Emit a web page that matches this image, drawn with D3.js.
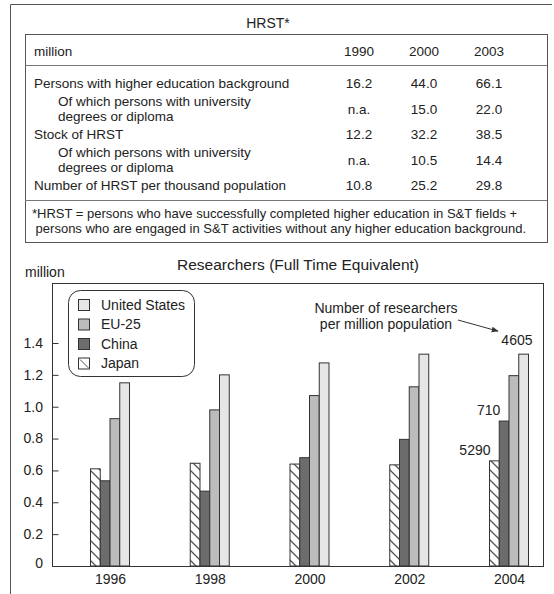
<!DOCTYPE html>
<html>
<head>
<meta charset="utf-8">
<script src="https://cdn.jsdelivr.net/npm/d3@7"></script>
<style>
  body { margin: 0; background: #fff; }
  svg { display: block; font-family: "Liberation Sans", Arial, sans-serif; }
</style>
</head>
<body>
<svg id="chart" width="554" height="594"></svg>
<script>
// ---- HRST table data
var hrstYears = ["1990", "2000", "2003"];
var hrstLabels = [
    ["Persons with higher education background"],
    ["Of which persons with university", "degrees or diploma"],
    ["Stock of HRST"],
    ["Of which persons with university", "degrees or diploma"],
    ["Number of HRST per thousand population"]
];
var hrstIndent = [0, 1, 0, 1, 0];
var hrstValues = [
    ["16.2", "44.0", "66.1"],
    ["n.a.", "15.0", "22.0"],
    ["12.2", "32.2", "38.5"],
    ["n.a.", "10.5", "14.4"],
    ["10.8", "25.2", "29.8"]
];
var hrstFootnote = [
    "*HRST = persons who have successfully completed higher education in S&T fields +",
    " persons who are engaged in S&T activities without any higher education background."
];

// ---- researchers chart data (million, FTE)
var years = [1996, 1998, 2000, 2002, 2004];
var series = ["Japan", "China", "EU-25", "United States"];
var japan = [0.61, 0.645, 0.64, 0.635, 0.66];
var china = [0.535, 0.47, 0.68, 0.795, 0.91];
var eu25 = [0.925, 0.98, 1.07, 1.125, 1.195];
var us = [1.15, 1.20, 1.275, 1.33, 1.33];
var yTicks = [0.2, 0.4, 0.6, 0.8, 1.0, 1.2, 1.4];
var legendOrder = ["United States", "EU-25", "China", "Japan"];
// researchers per million population, 2004
var perMillion = [
    {series: "Japan", value: 5290},
    {series: "China", value: 710},
    {series: "United States", value: 4605}
];

var fills = {"United States": "#e6e6e6", "EU-25": "#bcbcbc", "China": "#6c6c6c", "Japan": "url(#hatch)"};
var values = {"Japan": japan, "China": china, "EU-25": eu25, "United States": us};

var svg = d3.select("#chart");
var ink = "#333";
var txt = "#222";

var defs = svg.append("defs");
var hatch = defs.append("pattern")
    .attr("id", "hatch")
    .attr("patternUnits", "userSpaceOnUse")
    .attr("width", 10)
    .attr("height", 10);
hatch.append("rect").attr("width", 10).attr("height", 10).attr("fill", "#fff");
hatch.append("path")
    .attr("d", "M0,0L10,10M-2,8L2,12M8,-2L12,2")
    .attr("stroke", "#555")
    .attr("stroke-width", 1.3);
defs.append("marker")
    .attr("id", "arrow")
    .attr("viewBox", "0 0 10 10")
    .attr("refX", 9).attr("refY", 5)
    .attr("markerWidth", 7).attr("markerHeight", 7)
    .attr("orient", "auto")
    .append("path")
    .attr("d", "M0,1L10,5L0,9z")
    .attr("fill", ink);

// outer frame (left and top edges only)
svg.append("path")
    .attr("d", "M10.5,594V4.5H552")
    .attr("fill", "none")
    .attr("stroke", "#555");

// ---------------- table ----------------
var tbl = svg.append("g");
var tX0 = 25, tX1 = 547, tY0 = 34, tY1 = 242;
var tFont = 13.5;
var colX = d3.scalePoint().domain(hrstYears).range([359, 489]);

tbl.append("text")
    .text("HRST*")
    .attr("x", 268).attr("y", 23)
    .attr("dy", "0.35em")
    .attr("text-anchor", "middle")
    .attr("font-size", 14)
    .attr("fill", txt);

tbl.append("rect")
    .attr("x", tX0 + 0.5).attr("y", tY0 + 0.5)
    .attr("width", tX1 - tX0).attr("height", tY1 - tY0)
    .attr("fill", "none")
    .attr("stroke", "#555");

tbl.append("line")
    .attr("x1", tX0).attr("x2", tX1)
    .attr("y1", 65.5).attr("y2", 65.5)
    .attr("stroke", "#777");

tbl.append("text")
    .text("million")
    .attr("x", 34).attr("y", 51)
    .attr("dy", "0.35em")
    .attr("font-size", tFont).attr("fill", txt);

tbl.selectAll("text.year")
    .data(hrstYears)
    .enter()
    .append("text")
    .attr("class", "year")
    .text(function(d) { return d; })
    .attr("x", function(d) { return colX(d); })
    .attr("y", 51)
    .attr("dy", "0.35em")
    .attr("text-anchor", "middle")
    .attr("font-size", tFont).attr("fill", txt);

// row centers built from row heights
var rowY = [];
var cursor = 72;
hrstLabels.forEach(function(l) {
    var h = l.length > 1 ? 28 : 23;
    rowY.push(cursor + h / 2);
    cursor += h;
});

var rows = tbl.selectAll("g.row")
    .data(hrstLabels)
    .enter()
    .append("g")
    .attr("class", "row")
    .attr("transform", function(d, i) { return "translate(0," + rowY[i] + ")"; });

rows.each(function(d, i) {
    var g = d3.select(this);
    g.selectAll("text.lab")
        .data(d)
        .enter()
        .append("text")
        .attr("class", "lab")
        .text(function(t) { return t; })
        .attr("x", hrstIndent[i] ? 58 : 34)
        .attr("y", function(t, j) { return (j - (d.length - 1) / 2) * 15.3; })
        .attr("dy", "0.35em")
        .attr("font-size", tFont).attr("fill", txt);
    g.selectAll("text.val")
        .data(hrstValues[i])
        .enter()
        .append("text")
        .attr("class", "val")
        .text(function(v) { return v; })
        .attr("x", function(v, j) { return colX(hrstYears[j]); })
        .attr("y", 0)
        .attr("dy", "0.35em")
        .attr("text-anchor", "middle")
        .attr("font-size", tFont).attr("fill", txt);
});

tbl.append("line")
    .attr("x1", tX0).attr("x2", tX1)
    .attr("y1", 200.5).attr("y2", 200.5)
    .attr("stroke", "#777");

tbl.selectAll("text.foot")
    .data(hrstFootnote)
    .enter()
    .append("text")
    .attr("class", "foot")
    .text(function(d) { return d; })
    .attr("x", 32)
    .attr("y", function(d, i) { return 213.5 + i * 14.8; })
    .attr("dy", "0.35em")
    .attr("font-size", 13)
    .style("white-space", "pre")
    .attr("fill", txt);

// ---------------- bar chart ----------------
var pL = 52, pR = 543, pT = 283, pB = 566;

var x = d3.scalePoint().domain(years).range([110, 509]);
var inner = d3.scaleBand().domain(series).range([-19.5, 19.5]);
var y = d3.scaleLinear().domain([0, 1.4]).range([pB, 343]);

var chart = svg.append("g");

chart.append("text")
    .text("Researchers (Full Time Equivalent)")
    .attr("x", 298).attr("y", 265)
    .attr("dy", "0.35em")
    .attr("text-anchor", "middle")
    .attr("font-size", 15.5).attr("fill", txt);

chart.append("text")
    .text("million")
    .attr("x", 25).attr("y", 272)
    .attr("dy", "0.35em")
    .attr("font-size", 14).attr("fill", txt);

// plot frame
chart.append("rect")
    .attr("x", pL + 0.5).attr("y", pT + 0.5)
    .attr("width", pR - pL).attr("height", pB - pT)
    .attr("fill", "none")
    .attr("stroke", ink);

// y axis, ticks pointing inward
var yAxis = chart.append("g")
    .attr("transform", "translate(" + (pL + 0.5) + ",0)")
    .call(d3.axisRight(y).tickValues(yTicks).tickSize(6).tickFormat(""));
yAxis.select(".domain").remove();
yAxis.selectAll("line").attr("stroke", ink);

chart.selectAll("text.ytick")
    .data([0].concat(yTicks))
    .enter()
    .append("text")
    .attr("class", "ytick")
    .text(function(d) { return d === 0 ? "0" : d3.format(".1f")(d); })
    .attr("x", 43)
    .attr("y", function(d) { return d === 0 ? y(d) - 3 : y(d); })
    .attr("dy", "0.35em")
    .attr("text-anchor", "end")
    .attr("font-size", 14).attr("fill", txt);

// x labels
var xAxis = chart.append("g")
    .attr("transform", "translate(0," + pB + ")")
    .call(d3.axisBottom(x).tickSize(0).tickPadding(8));
xAxis.select(".domain").remove();
xAxis.selectAll("text")
    .attr("font-size", 14)
    .attr("font-family", "Liberation Sans, Arial, sans-serif")
    .attr("fill", txt);

// bars
var barData = [];
years.forEach(function(yr, i) {
    series.forEach(function(s) {
        barData.push({year: yr, series: s, value: values[s][i]});
    });
});

chart.append("g")
    .selectAll("rect")
    .data(barData)
    .enter()
    .append("rect")
    .attr("x", function(d) { return x(d.year) + inner(d.series); })
    .attr("y", function(d) { return y(d.value); })
    .attr("width", inner.bandwidth())
    .attr("height", function(d) { return y(0) - y(d.value); })
    .attr("fill", function(d) { return fills[d.series]; })
    .attr("stroke", ink)
    .attr("stroke-width", 1);

// baseline redrawn on top
chart.append("line")
    .attr("x1", pL).attr("x2", pR + 1)
    .attr("y1", pB + 0.5).attr("y2", pB + 0.5)
    .attr("stroke", ink);

// legend
var leg = chart.append("g").attr("transform", "translate(68,290)");
leg.append("rect")
    .attr("x", 0.5).attr("y", 0.5)
    .attr("width", 126).attr("height", 86)
    .attr("rx", 12)
    .attr("fill", "#fff")
    .attr("stroke", ink);
var items = leg.selectAll("g.item")
    .data(legendOrder)
    .enter()
    .append("g")
    .attr("class", "item")
    .attr("transform", function(d, i) { return "translate(10," + (15 + i * 19.5) + ")"; });
items.append("rect")
    .attr("x", 0.5).attr("y", -5.5)
    .attr("width", 11).attr("height", 11)
    .attr("fill", function(d) { return d === "Japan" ? "#fff" : fills[d]; })
    .attr("stroke", ink);
items.filter(function(d) { return d === "Japan"; })
    .append("line")
    .attr("x1", 2).attr("y1", -4).attr("x2", 11).attr("y2", 5)
    .attr("stroke", "#555");
items.append("text")
    .text(function(d) { return d; })
    .attr("x", 23)
    .attr("dy", "0.35em")
    .attr("font-size", 14).attr("fill", txt);

// per-million annotation
var last = years[years.length - 1];
var li = years.length - 1;
chart.selectAll("text.pm")
    .data(perMillion)
    .enter()
    .append("text")
    .attr("class", "pm")
    .text(function(d) { return d.value; })
    .attr("x", function(d) {
        return d.series === "United States"
            ? x(last) + inner(d.series) + inner.bandwidth() + 4
            : x(last) + inner(d.series) + 1;
    })
    .attr("y", function(d) { return y(values[d.series][li]) - (d.series === "United States" ? 14 : 11); })
    .attr("dy", "0.35em")
    .attr("text-anchor", "end")
    .attr("font-size", 14).attr("fill", txt);

chart.selectAll("text.note")
    .data(["Number of researchers", "per million population"])
    .enter()
    .append("text")
    .attr("class", "note")
    .text(function(d) { return d; })
    .attr("x", 386)
    .attr("y", function(d, i) { return 308.5 + i * 15.8; })
    .attr("dy", "0.35em")
    .attr("text-anchor", "middle")
    .attr("font-size", 14).attr("fill", txt);

chart.append("line")
    .attr("x1", 458).attr("y1", 320)
    .attr("x2", x(last) - 11).attr("y2", y(us[li]) - 23)
    .attr("stroke", ink)
    .attr("marker-end", "url(#arrow)");
</script>
</body>
</html>
